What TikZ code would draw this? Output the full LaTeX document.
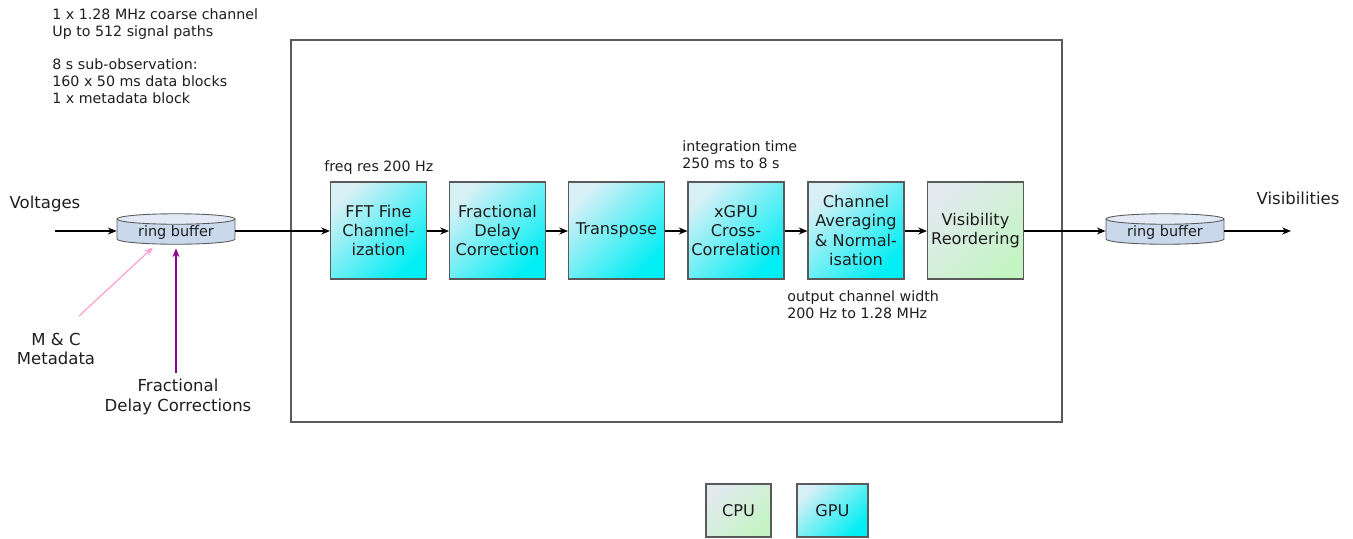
\documentclass[tikz,border=0pt]{standalone}
\usepackage{fontspec}
\setmainfont{DejaVu Sans}
\usetikzlibrary{arrows.meta,calc}
\definecolor{gpulight}{RGB}{214,240,246}
\definecolor{gpudark}{RGB}{0,238,244}
\definecolor{cpulight}{RGB}{226,234,238}
\definecolor{cpudark}{RGB}{196,244,196}
\definecolor{rbtop}{RGB}{226,234,246}
\definecolor{rbbody}{RGB}{202,216,236}
\definecolor{pinkline}{RGB}{255,160,210}
\definecolor{purpleline}{RGB}{140,0,140}
\definecolor{framegray}{RGB}{90,90,90}
\definecolor{txt}{RGB}{30,30,30}
\tikzset{
  boxbase/.style={draw=framegray, line width=0.6pt, minimum width=1.92cm, minimum height=1.94cm,
    inner sep=1pt, align=center, text=txt, font=\fontsize{9.2}{11}\selectfont},
  gpubox/.style={boxbase, top color=gpulight, bottom color=gpudark, shading angle=45},
  cpubox/.style={boxbase, top color=cpulight, bottom color=cpudark, shading angle=45},
  smalltxt/.style={text=txt, font=\fontsize{8.1}{9.6}\selectfont, align=left, inner sep=0pt},
  bigtxt/.style={text=txt, font=\fontsize{9.4}{11}\selectfont, align=center, inner sep=0pt},
  rbtext/.style={minimum width=2.36cm, minimum height=0.64cm, inner sep=0pt, text=txt,
    font=\fontsize{8.2}{9}\selectfont},
  flow/.style={-{Stealth[length=5pt,width=4pt]}, line width=0.6pt, black},
}
\newcommand{\ringbuf}[3]{%
  \fill[rbbody] ($(#2,#3)+(-59,-10)$) -- ($(#2,#3)+(-59,10)$)
     arc[start angle=180,end angle=360,x radius=1.18cm,y radius=0.105cm]
     -- ($(#2,#3)+(59,-10)$)
     arc[start angle=0,end angle=180,x radius=1.18cm,y radius=0.105cm] -- cycle;
  \draw[framegray, line width=0.5pt] ($(#2,#3)+(-59,-10)$) -- ($(#2,#3)+(-59,10)$)
     arc[start angle=180,end angle=360,x radius=1.18cm,y radius=0.105cm]
     -- ($(#2,#3)+(59,-10)$);
  \draw[framegray, line width=0.5pt, fill=rbtop] ($(#2,#3)+(0,-10)$) ellipse[x radius=1.18cm, y radius=0.105cm];
  \node[rbtext] (#1) at (#2,#3) {\raisebox{-4pt}[0pt][0pt]{ring buffer}};
}
\begin{document}
\begin{tikzpicture}[x=0.02cm, y=-0.02cm]
\useasboundingbox (0,0) rectangle (1353,538);

% frame
\node[draw=framegray, line width=0.8pt, minimum width=15.42cm, minimum height=7.64cm, inner sep=0pt] (frame) at (676.5,231) {};

% notes
\node[smalltxt, anchor=north west] (notes) at (52,8) {1 x 1.28 MHz coarse channel\\Up to 512 signal paths\\[9.6pt]8 s sub-observation:\\160 x 50 ms data blocks\\1 x metadata block};
\node[smalltxt, anchor=south west] (freq) at (324,175) {freq res 200 Hz};
\node[smalltxt, anchor=south west] (integ) at (682,169) {integration time\\250 ms to 8 s};
\node[smalltxt, anchor=north west] (outw) at (787,290) {output channel width\\200 Hz to 1.28 MHz};

% ring buffers
\ringbuf{rb1}{176}{229}
\ringbuf{rb2}{1165}{229}

% process boxes
\node[gpubox] (fft) at (378.5,230.5) {FFT Fine\\Channel-\\ization};
\node[gpubox] (fdc) at (497.5,230.5) {Fractional\\Delay\\Correction};
\node[gpubox] (tr) at (616.5,230.5) {Transpose};
\node[gpubox] (xgpu) at (736,230.5) {xGPU\\Cross-\\Correlation};
\node[gpubox] (avg) at (856,230.5) {Channel\\Averaging\\\&~Normal-\\isation};
\node[cpubox] (vis) at (975.5,230.5) {Visibility\\Reordering};

% legend
\node[cpubox, minimum width=1.3cm, minimum height=1.06cm] (cpu) at (738.5,510.5) {CPU};
\node[gpubox, minimum width=1.42cm, minimum height=1.06cm] (gpu) at (832.5,510.5) {GPU};

% labels
\node[bigtxt, anchor=center] (volt) at (45,204) {Voltages};
\node[bigtxt, anchor=center] (visib) at (1298,198) {Visibilities};
\node[bigtxt, anchor=center] (mc) at (56,349) {M \& C\\Metadata};
\node[bigtxt, anchor=center] (fdcorr) at (178,397) {Fractional\\Delay Corrections};

\coordinate (vin) at (55,231);
\coordinate (vout) at (1291,231);
\coordinate (mcend) at (79,316);
\coordinate (fdend) at (176,373);

% connectors
\draw[flow] (vin) -- (rb1.west |- vin);
\draw[flow] (rb1.east |- vin) -- (fft.west |- vin);
\draw[flow] (fft.east |- vin) -- (fdc.west |- vin);
\draw[flow] (fdc.east |- vin) -- (tr.west |- vin);
\draw[flow] (tr.east |- vin) -- (xgpu.west |- vin);
\draw[flow] (xgpu.east |- vin) -- (avg.west |- vin);
\draw[flow] (avg.east |- vin) -- (vis.west |- vin);
\draw[flow] (vis.east |- vin) -- (rb2.west |- vin);
\draw[flow] (rb2.east |- vin) -- (vout);
\draw[-{Stealth[length=5pt,width=4pt]}, line width=0.7pt, pinkline] (mcend) -- ($(rb1.south)+(-23,2)$);
\draw[-{Stealth[length=5pt,width=4pt]}, line width=0.8pt, purpleline] (fdend) -- ($(rb1.south)+(0,3)$);
\end{tikzpicture}
\end{document}
